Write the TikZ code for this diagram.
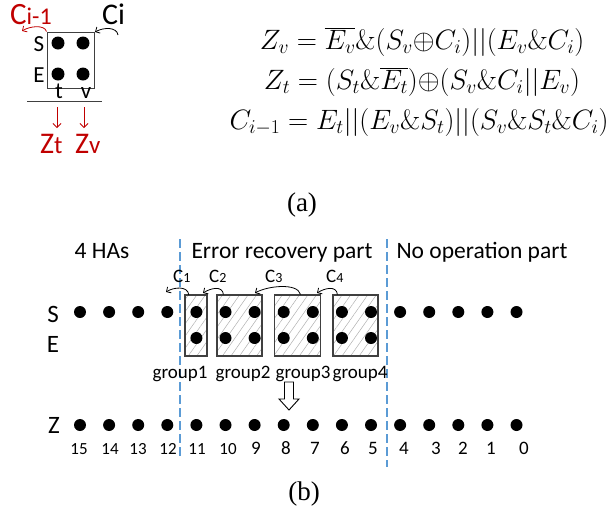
\RequirePackage{fix-cm}
\documentclass[tikz,border=0pt]{standalone}
\usepackage[no-math]{fontspec}
\setmainfont{Carlito}
\newfontfamily\capfont{Liberation Serif}
\usetikzlibrary{arrows.meta,patterns.meta}
\definecolor{hared}{HTML}{C00000}
\definecolor{partblue}{HTML}{5B9BD5}
\definecolor{boxgray}{HTML}{404040}
\definecolor{hatch}{HTML}{B0B0B0}
\newcommand{\fs}[1]{\fontsize{#1}{#1}\selectfont}
\begin{document}
\begin{tikzpicture}[x=1pt,y=-1pt,
  dot/.style={circle,fill=black,inner sep=0pt,minimum size=12pt},
  bigdot/.style={circle,fill=black,inner sep=0pt,minimum size=13pt},
  txt/.style={inner sep=0pt,font=\fs{23.5}},
  lbl/.style={inner sep=0pt,font=\fs{25}},
  small/.style={inner sep=0pt,font=\fs{23}},
  num/.style={inner sep=0pt,anchor=base,font=\fs{17}},
  bignum/.style={inner sep=0pt,anchor=base,font=\fs{19}},
  grp/.style={inner sep=0pt,anchor=base,font=\fs{19}},
  eq/.style={inner sep=0pt,font=\fs{28}},
  caption/.style={inner sep=0pt,font=\capfont\fs{27}},
  gbox/.style={draw=boxgray,line width=1.2pt,inner sep=0pt,
    pattern={Lines[angle=55,distance=7pt,line width=0.5pt]},pattern color=hatch},
  cellbox/.style={draw=boxgray,line width=1pt,inner sep=0pt},
  carry/.style={line width=0.8pt,-{Straight Barb[length=3.5pt,width=7pt]}},
  down/.style={hared,line width=0.8pt,-{Straight Barb[length=4pt,width=8pt]}},
  divider/.style={partblue,line width=1.3pt,dash pattern=on 9pt off 4pt}]
\useasboundingbox (0,0) rectangle (611,515);

% ---------- (a) one half adder cell ----------
\node[cellbox,minimum width=47pt,minimum height=56pt] (cell) at (70.5,60) {};
\node[bigdot] (ast) at (58,43) {};
\node[bigdot] (asv) at (83,43) {};
\node[bigdot] (aet) at (58,74) {};
\node[bigdot] (aev) at (83,74) {};
\node[small,anchor=base] (aS) at (39,51) {S};
\node[small,anchor=base] (aE) at (39,82) {E};
\node[small,anchor=base] (at) at (59,98) {t};
\node[small,anchor=base] (av) at (86,98) {v};
\coordinate (bl) at (27,101);
\coordinate (br) at (102,101);
\draw[boxgray,line width=1pt] (bl) -- (br);

\node[inner sep=0pt,anchor=base west,text=hared] (cout) at (10,24)
  {\fs{31}C\fs{24}i-1};
\node[inner sep=0pt,anchor=base west] (cin) at (102,24) {\fs{30}Ci};
\node[inner sep=0pt,anchor=base west,text=hared] (zt) at (40,153)
  {\fs{30}Z\fs{25}t};
\node[inner sep=0pt,anchor=base west,text=hared] (zv) at (75,153)
  {\fs{30}Z\fs{25}v};

\coordinate (cinfrom) at (118,35);
\coordinate (cinto) at (95,32);
\draw[carry] (cinfrom) .. controls +(-1,-8) and +(9,-5) .. (cinto);
\coordinate (coutto) at (22,31);
\draw[carry,hared] (cell.north west) .. controls +(-2,-7) and +(8,-5) .. (coutto);

\coordinate (tfrom) at (57,107);
\coordinate (tto) at (57,128);
\coordinate (vfrom) at (84,107);
\coordinate (vto) at (84,128);
\draw[down] (tfrom) -- (tto);
\draw[down] (vfrom) -- (vto);

% ---------- (a) equations ----------
\node[eq] (eqz) at (422,42) {$Z_v = \overline{E_v}\&(S_v{\oplus}C_i)||(E_v\&C_i)$};
\node[eq] (eqt) at (422,82) {$Z_t = (S_t\&\overline{E_t}){\oplus}(S_v\&C_i||E_v)$};
\node[eq] (eqc) at (419,122) {$C_{i-1} = E_t||(E_v\&S_t)||(S_v\&S_t\&C_i)$};

\node[caption] (capa) at (302,205) {(a)};

% ---------- (b) 16-bit adder ----------
\coordinate (d1top) at (180,239);
\coordinate (d1bot) at (180,456);
\coordinate (d2top) at (387,239);
\coordinate (d2bot) at (387,467);
\draw[divider] (d1top) -- (d1bot);
\draw[divider] (d2top) -- (d2bot);

\node[txt,anchor=base] (hdr1) at (102,258) {4 HAs};
\node[txt,anchor=base] (hdr2) at (282,258) {Error recovery part};
\node[txt,anchor=base] (hdr3) at (482,258) {No operation part};

\node[lbl,anchor=base] (lS) at (53,322) {S};
\node[lbl,anchor=base] (lE) at (53,352) {E};
\node[lbl,anchor=base] (lZ) at (54,433) {Z};

% groups of the error recovery part
\node[gbox,minimum width=22pt,minimum height=61pt] (g1) at (196,325.5) {};
\node[gbox,minimum width=45pt,minimum height=61pt] (g2) at (239.5,325.5) {};
\node[gbox,minimum width=46pt,minimum height=61pt] (g3) at (297.5,325.5) {};
\node[gbox,minimum width=45pt,minimum height=61pt] (g4) at (355.5,325.5) {};

\foreach \k in {0,...,15} {
  \node[dot] (s\k) at ({80+29.1*\k},312) {};
  \node[dot] (z\k) at ({80+29.1*\k},425) {};
}
\foreach \k in {4,...,10} \node[dot] (e\k) at ({80+29.1*\k},338) {};

\node[grp] (gl1) at (180,378) {group1};
\node[grp] (gl2) at (243,378) {group2};
\node[grp] (gl3) at (303,378) {group3};
\node[grp] (gl4) at (360,378) {group4};

% carries between groups
\node[inner sep=0pt,anchor=base west] (c1) at (173,282) {\fs{19}C\fs{14}1};
\node[inner sep=0pt,anchor=base west] (c2) at (209,282) {\fs{19}C\fs{14}2};
\node[inner sep=0pt,anchor=base west] (c3) at (265,282) {\fs{19}C\fs{14}3};
\node[inner sep=0pt,anchor=base west] (c4) at (326,282) {\fs{19}C\fs{14}4};

\coordinate (c1to) at (166,292);
\coordinate (c2to) at (203,293);
\coordinate (c3to) at (255,293);
\coordinate (c4to) at (317,293);
\draw[carry] ([xshift=4pt]g1.north west) .. controls +(-1,-9) and +(8,-5) .. (c1to);
\draw[carry] ([xshift=7pt]g2.north west) .. controls +(-1,-9) and +(8,-5) .. (c2to);
\draw[carry] ([xshift=3pt]g3.north) .. controls +(-3,-12) and +(12,-7) .. (c3to);
\draw[carry] ([xshift=5pt]g4.north west) .. controls +(-1,-9) and +(8,-5) .. (c4to);

% hollow arrow from the groups to the sum bits
\draw[line width=0.9pt,fill=white]
  (284.5,382) -- (293.5,382) -- (293.5,399) -- (299,399) -- (289,410)
  -- (279,399) -- (284.5,399) -- cycle;

% bit positions of Z
\foreach \n/\x in {15/79,14/110,13/138,12/168,11/197,10/228}
  \node[num] (n\n) at (\x,454) {\n};
\foreach \n/\x in {9/256,8/286,7/315,6/345,5/373,4/404,3/436,2/463,1/491,0/524}
  \node[bignum] (n\n) at (\x,454) {\n};

\node[caption] (capb) at (304,494) {(b)};
\end{tikzpicture}
\end{document}
